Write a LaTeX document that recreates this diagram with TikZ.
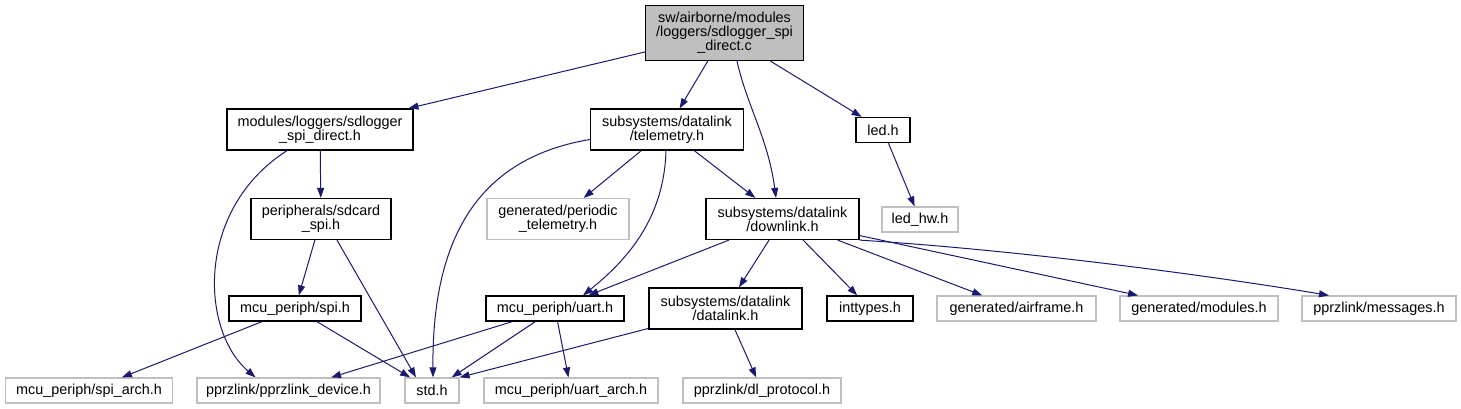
\documentclass[tikz,border=0pt]{standalone}
\usepackage{fontspec}
\setmainfont{Liberation Sans}
\usetikzlibrary{arrows.meta}
\definecolor{edgeBlue}{HTML}{191970}
\definecolor{extGray}{HTML}{BFBFBF}

\begin{document}
\begin{tikzpicture}[x=1pt,y=-1pt,
  box/.style={draw, line width=1.2pt, inner sep=0pt, align=center, font=\fontsize{14.4pt}{14pt}\selectfont},
  hdr/.style={box, draw=black},
  ext/.style={box, draw=extGray},
  src/.style={box, draw=black, fill=extGray},
  dep/.style={draw=edgeBlue, line width=1pt, -{Triangle[length=10pt,width=7pt]}}]
\useasboundingbox (0,0) rectangle (1461,409);
\node[src, minimum width=158pt, minimum height=55pt] (srcC) at (724.5,33) {sw/airborne/modules\\/loggers/sdlogger\_spi\\\_direct.c};
\node[hdr, minimum width=186pt, minimum height=41pt] (sdloggerH) at (320,129.5) {modules/loggers/sdlogger\\\_spi\_direct.h};
\node[hdr, minimum width=153pt, minimum height=41pt] (telemetryH) at (667,129.5) {subsystems/datalink\\/telemetry.h};
\node[hdr, minimum width=54pt, minimum height=25pt] (ledH) at (883,130) {led.h};
\node[hdr, minimum width=140pt, minimum height=41pt] (sdcardH) at (321,219) {peripherals/sdcard\\\_spi.h};
\node[ext, minimum width=142pt, minimum height=41pt] (periodicH) at (558,219) {generated/periodic\\\_telemetry.h};
\node[hdr, minimum width=153pt, minimum height=41pt] (downlinkH) at (782.5,219) {subsystems/datalink\\/downlink.h};
\node[ext, minimum width=76pt, minimum height=25pt] (ledHwH) at (920,219.5) {led\_hw.h};
\node[hdr, minimum width=132pt, minimum height=25pt] (spiH) at (295,308.5) {mcu\_periph/spi.h};
\node[hdr, minimum width=138pt, minimum height=25pt] (uartH) at (555,308.5) {mcu\_periph/uart.h};
\node[hdr, minimum width=153pt, minimum height=41pt] (datalinkH) at (725.5,308.5) {subsystems/datalink\\/datalink.h};
\node[hdr, minimum width=86pt, minimum height=25pt] (inttypesH) at (870,308.5) {inttypes.h};
\node[ext, minimum width=159pt, minimum height=25pt] (airframeH) at (1016.5,308.5) {generated/airframe.h};
\node[ext, minimum width=158pt, minimum height=25pt] (modulesH) at (1199,308.5) {generated/modules.h};
\node[ext, minimum width=154pt, minimum height=25pt] (messagesH) at (1379,308.5) {pprzlink/messages.h};
\node[ext, minimum width=167pt, minimum height=25pt] (spiArchH) at (89,390.5) {mcu\_periph/spi\_arch.h};
\node[ext, minimum width=183pt, minimum height=25pt] (deviceH) at (288.5,390.5) {pprzlink/pprzlink\_device.h};
\node[ext, minimum width=54pt, minimum height=25pt] (stdH) at (432,390.5) {std.h};
\node[ext, minimum width=174pt, minimum height=25pt] (uartArchH) at (571,390.5) {mcu\_periph/uart\_arch.h};
\node[ext, minimum width=158pt, minimum height=25pt] (dlProtocolH) at (762,390.5) {pprzlink/dl\_protocol.h};
\draw[dep] (srcC) -- (sdloggerH);
\draw[dep] (srcC) -- (telemetryH);
\draw[dep] ([xshift=12.5pt]srcC.south) .. controls +(10,45) and +(-8,-60) .. ([xshift=-6.5pt]downlinkH.north);
\draw[dep] (srcC) -- (ledH);
\draw[dep] (sdloggerH) -- (sdcardH);
\draw[dep] ([xshift=-33pt]sdloggerH.south) .. controls +(-92,59) and +(-55,-47) .. ([xshift=-33pt]deviceH.north);
\draw[dep] ([xshift=16pt]sdcardH.south) -- ([xshift=-16pt]stdH.north);
\draw[dep] (sdcardH) -- (spiH);
\draw[dep] (spiH) -- (spiArchH);
\draw[dep] (spiH) -- (stdH);
\draw[dep] ([yshift=-10pt]telemetryH.west) .. controls +(-120,20) and +(-1,-128) .. ([xshift=1pt]stdH.north);
\draw[dep] (telemetryH) -- (periodicH);
\draw[dep] ([xshift=-1pt]telemetryH.south) .. controls +(-2,70) and +(42,-34) .. ([xshift=28pt]uartH.north);
\draw[dep] (telemetryH) -- (downlinkH);
\draw[dep] (downlinkH) -- (uartH);
\draw[dep] (downlinkH) -- (datalinkH);
\draw[dep] (downlinkH) -- (inttypesH);
\draw[dep] (downlinkH) -- (airframeH);
\draw[dep] (downlinkH) -- (modulesH);
\draw[dep] (downlinkH.south east) .. controls +(160,10) and +(-120,-20) .. ([xshift=-50pt]messagesH.north);
\draw[dep] (ledH) -- (ledHwH);
\draw[dep] (uartH) -- (deviceH);
\draw[dep] (uartH) -- (stdH);
\draw[dep] (uartH) -- (uartArchH);
\draw[dep] (datalinkH) -- (stdH.north east);
\draw[dep] (datalinkH) -- (dlProtocolH);
\end{tikzpicture}
\end{document}
